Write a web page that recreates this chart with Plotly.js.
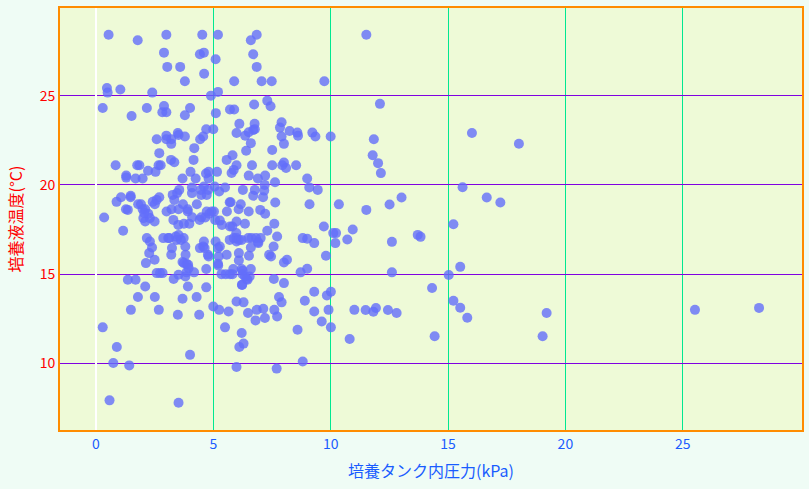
<!DOCTYPE html>
<html>
<head>
<meta charset="utf-8">
<script src="https://cdn.plot.ly/plotly-3.0.1.min.js"></script>
<style>html,body{margin:0;padding:0;background:#effcf5;}</style>
</head>
<body>
<div id="chart" style="width:809px;height:489px;"></div>
<script>
// 培養タンク内圧力 (kPa)
const pressure = [
0.54,3.0,4.53,5.2,6.85,11.52,6.6,1.78,2.90,4.43,4.60,5.10,6.70,3.04,3.59,6.85,4.61,3.79,5.89,7.06,
7.49,9.73,0.47,0.50,1.04,2.40,4.90,5.20,0.29,1.52,2.17,2.90,2.83,3.00,4.01,3.79,5.11,5.71,5.89,6.74,
7.30,7.44,12.10,6.11,7.91,7.84,6.76,6.70,6.77,6.51,6.36,8.25,8.58,8.61,9.22,9.35,10.0,5.99,4.70,5.0,
3.49,3.52,3.79,2.59,3.0,3.0,3.21,3.21,4.44,4.57,4.19,6.60,7.91,8.01,7.51,11.84,16.02,18.02,2.70,6.40,
5.82,5.57,3.20,3.34,4.16,0.84,1.76,1.85,2.67,2.76,5.99,6.65,7.51,7.94,8.01,8.10,8.53,5.87,5.78,1.29,
1.29,1.69,1.99,2.22,2.54,3.69,4.03,4.25,4.69,4.80,5.16,4.80,6.51,6.90,7.21,7.63,7.19,7.17,6.77,6.70,
7.12,6.26,9.0,9.09,9.45,9.10,10.35,11.79,12.02,12.14,5.06,5.50,4.47,4.49,4.60,4.78,4.72,5.25,4.09,4.09,
4.30,3.55,3.46,3.27,3.34,3.71,2.70,2.59,2.42,2.51,1.92,1.99,1.80,1.48,1.48,1.07,0.88,1.28,1.36,0.35,
1.16,2.10,2.23,2.02,2.10,2.30,2.50,3.01,3.22,3.52,3.91,3.91,3.30,3.51,3.75,3.98,4.10,4.42,4.49,4.72,
4.93,5.03,4.66,4.83,5.08,5.28,5.58,5.70,5.74,6.08,6.17,6.51,7.0,7.21,7.64,5.99,6.35,5.37,5.71,5.81,
7.60,7.30,7.72,5.98,5.87,5.99,6.09,5.99,6.21,5.70,6.49,6.63,6.82,7.02,6.90,6.60,7.38,7.46,8.14,8.01,
8.81,9.0,9.30,9.71,10.11,10.23,10.20,9.80,9.0,8.72,5.57,6.09,6.09,6.52,5.20,5.28,5.20,5.23,5.10,4.77,
4.80,4.43,4.57,4.63,4.60,4.70,5.53,5.35,5.71,5.82,5.85,6.21,6.25,6.35,6.46,6.23,6.55,6.60,3.82,3.75,
3.86,3.81,3.62,3.74,3.44,3.52,3.40,3.24,3.12,2.87,3.08,3.21,2.17,2.30,2.39,2.27,2.50,2.13,3.95,3.86,
4.18,2.59,2.73,2.84,3.31,3.52,3.81,1.36,1.69,2.10,3.92,4.70,7.58,8.01,9.30,1.79,2.51,1.49,2.68,0.29,
3.69,4.29,3.49,4.40,5.0,5.25,5.65,5.50,5.99,6.29,6.48,6.85,7.13,6.80,7.20,7.60,7.72,7.80,7.91,6.21,
6.11,6.29,4.01,0.89,0.74,1.42,0.58,3.52,5.99,7.70,8.81,8.59,8.90,9.84,10.01,9.30,9.91,9.62,10.01,6.22,
11.52,12.51,13.02,15.62,16.65,17.23,15.23,10.94,10.71,12.61,13.71,13.83,12.61,15.03,15.52,14.32,11.01,11.49,11.82,11.93,
12.44,12.81,10.81,14.43,15.23,15.52,15.82,19.20,19.03,25.52,28.25,6.92,7.57,3.69,3.93,5.21,6.25,6.42,2.06
];
// 培養液温度 (°C)
const temperature = [
28.41,28.41,28.41,28.41,28.41,28.41,28.1,28.1,27.41,27.32,27.41,27.04,27.32,26.61,26.61,26.61,26.23,25.81,25.81,25.81,
25.81,25.81,25.43,25.17,25.34,25.17,25.0,25.21,24.31,23.86,24.31,24.42,24.07,24.07,24.31,23.90,24.02,24.22,24.22,24.50,
24.72,24.41,24.54,23.42,23.51,23.21,23.42,23.08,23.12,22.95,22.76,23.02,22.93,22.76,22.93,22.71,22.71,22.91,23.12,23.12,
22.91,22.80,22.71,22.56,22.76,22.56,22.56,22.30,22.56,22.71,22.06,22.34,22.71,22.30,21.96,22.56,22.91,22.31,21.78,21.91,
21.66,21.40,21.40,21.27,21.40,21.10,21.10,21.10,21.10,21.10,21.10,21.10,21.10,21.10,21.25,20.95,21.10,20.84,20.67,20.52,
20.41,20.36,20.36,20.79,20.73,20.36,20.73,20.36,20.64,20.73,20.73,20.36,20.52,20.36,20.52,20.15,20.0,19.68,19.72,19.39,
19.31,19.72,20.36,19.86,19.72,18.92,18.91,21.66,21.22,20.66,19.91,19.85,19.72,19.44,19.91,19.72,19.44,19.63,19.85,19.54,
18.92,19.72,19.54,19.44,19.16,18.92,19.31,19.16,19.05,18.92,18.92,18.64,18.92,19.39,19.31,19.31,19.05,18.64,18.60,18.17,
17.43,18.64,18.38,18.14,17.95,18.14,17.95,18.51,18.64,18.64,18.64,18.51,18.04,17.76,17.82,17.82,18.19,18.04,18.19,18.51,
18.51,18.51,18.17,18.38,18.04,18.0,18.51,19.03,19.03,18.64,18.92,18.51,18.60,18.38,19.01,17.95,17.82,17.76,17.67,17.67,
17.82,17.43,17.11,17.30,17.02,17.02,16.92,16.83,16.92,16.92,17.02,17.02,17.02,17.02,16.80,16.49,16.09,15.99,15.81,15.65,
17.02,16.98,16.74,17.67,17.30,17.30,16.74,16.03,15.30,15.10,16.09,16.18,15.77,16.03,16.46,16.55,15.58,15.99,16.83,16.09,
15.99,16.46,16.55,16.46,16.83,15.29,15.0,15.0,15.0,15.0,15.29,15.29,15.0,14.87,14.69,14.39,14.87,15.29,16.09,15.62,
15.58,16.55,16.92,17.02,16.92,17.19,17.11,16.46,17.02,17.02,17.02,16.09,17.02,16.83,16.49,16.18,15.81,15.62,15.34,15.10,
15.10,15.06,15.06,15.06,14.73,14.97,14.87,14.69,14.69,14.31,14.31,14.26,14.73,14.50,14.01,13.72,13.72,13.0,13.0,12.02,
13.62,13.72,12.73,12.73,13.19,13.0,12.91,12.02,13.47,13.42,12.82,13.0,13.06,12.41,12.54,13.0,12.63,13.72,13.42,11.70,
10.92,11.11,10.48,10.92,10.02,9.89,7.93,7.80,9.80,9.71,10.11,11.89,13.51,13.81,14.01,12.91,13.0,12.35,12.02,14.41,
18.60,18.90,19.29,19.87,19.29,19.01,17.80,17.50,16.94,16.81,17.20,17.09,15.10,14.95,15.41,14.22,13.0,12.99,12.90,13.10,
12.99,12.82,11.37,11.52,13.51,13.12,12.56,12.82,11.52,13.0,13.11,16.74,16.55,15.68,15.53,15.49,15.19,14.73,18.42
];
const xTicks = [0, 5, 10, 15, 20, 25];
const yTicks = [10, 15, 20, 25];
const xTitle = '培養タンク内圧力(kPa)';
const yTitle = '培養液温度(°C)';

const fontFam = 'Noto Sans CJK JP, Noto Sans, sans-serif';
const trace = {
  x: pressure, y: temperature, type: 'scatter', mode: 'markers',
  marker: {color: '#636efa', size: 10, opacity: 0.8, line: {width: 0}},
  hoverinfo: 'x+y'
};
const layout = {
  width: 809, height: 489,
  margin: {l: 60, r: 7, t: 8, b: 59},
  paper_bgcolor: '#effcf5',
  plot_bgcolor: '#eefad7',
  font: {family: fontFam},
  showlegend: false,
  xaxis: {
    range: [-1.53, 30.08], tickvals: xTicks, ticktext: xTicks.map(String),
    showgrid: true, gridcolor: '#00e890', gridwidth: 1,
    zeroline: true, zerolinecolor: '#ffffff', zerolinewidth: 2,
    showline: true, mirror: true, linecolor: '#ff8c00', linewidth: 2,
    ticks: '', tickfont: {color: '#1a5cff', size: 14, family: fontFam},
    title: {text: xTitle, font: {color: '#1a5cff', size: 16, family: fontFam}, standoff: 14}
  },
  yaxis: {
    range: [6.27, 29.91], tickvals: yTicks, ticktext: yTicks.map(String),
    showgrid: true, gridcolor: '#8000e0', gridwidth: 1,
    zeroline: false,
    showline: true, mirror: true, linecolor: '#ff8c00', linewidth: 2,
    ticks: '', tickfont: {color: '#ff0000', size: 14, family: fontFam},
    title: {text: yTitle, font: {color: '#ff0000', size: 16, family: fontFam}, standoff: 13}
  }
};
Plotly.newPlot('chart', [trace], layout, {displayModeBar: false, staticPlot: true});
</script>
</body>
</html>
